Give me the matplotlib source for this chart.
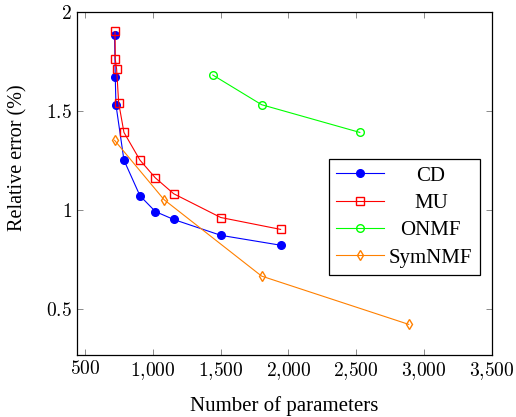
import numpy as np
import matplotlib
matplotlib.use("Agg")
import matplotlib.pyplot as plt
from matplotlib.ticker import FuncFormatter, FixedLocator

plt.rcParams['font.family'] = 'Liberation Serif'
plt.rcParams['mathtext.fontset'] = 'cm'

# values
cd_x = [719, 724, 729, 788, 906, 1020, 1155, 1502, 1943]
cd_y = [1.88, 1.67, 1.53, 1.25, 1.07, 0.99, 0.95, 0.87, 0.82]

mu_x = [722, 724, 734, 749, 788, 906, 1020, 1155, 1502, 1943]
mu_y = [1.90, 1.76, 1.71, 1.54, 1.39, 1.25, 1.16, 1.08, 0.96, 0.90]

onmf_x = [1443, 1803, 2527]
onmf_y = [1.68, 1.53, 1.39]

sym_x = [719, 1084, 1803, 2888]
sym_y = [1.35, 1.05, 0.664, 0.42]

x_ticks = [500, 1000, 1500, 2000, 2500, 3000, 3500]
y_ticks = [0.5, 1, 1.5, 2]

fig = plt.figure(figsize=(5.16, 4.17), dpi=100)
ax = fig.add_axes([0.149, 0.149, 0.804, 0.823])

ax.plot(cd_x, cd_y, color='blue', lw=0.8, marker='o', ms=5.5, mfc='blue', mec='blue', label='CD')
ax.plot(mu_x, mu_y, color='red', lw=0.8, marker='s', ms=5.5, mfc='none', mec='red', label='MU')
ax.plot(onmf_x, onmf_y, color='#00ff00', lw=0.8, marker='o', ms=5.5, mfc='none', mec='#00ff00', label='ONMF')
ax.plot(sym_x, sym_y, color='#ff8000', lw=0.8, marker='d', ms=5, mfc='none', mec='#ff8000', label='SymNMF')

ax.set_xlim(441, 3500)
ax.set_ylim(0.266, 2)
ax.xaxis.set_major_locator(FixedLocator(x_ticks))
ax.yaxis.set_major_locator(FixedLocator(y_ticks))
ax.xaxis.set_major_formatter(FuncFormatter(lambda v, p: '$' + f'{int(v):,}'.replace(',', '{,}') + '$'))
ax.yaxis.set_major_formatter(FuncFormatter(lambda v, p: f'${v:g}$'))
ax.tick_params(direction='in', top=True, right=True, length=4, width=0.6, labelsize=14, color='#777777')
for s in ax.spines.values():
    s.set_linewidth(0.9)

ax.set_xlabel('Number of parameters', fontsize=15, labelpad=10.5)
ax.set_ylabel('Relative error (%)', fontsize=14.5)
ax.yaxis.set_label_coords(-0.118, 0.575)

leg = ax.legend(loc='upper left', bbox_to_anchor=(0.607, 0.571), borderaxespad=0,
                fontsize=15, fancybox=False, edgecolor='black', framealpha=1,
                handlelength=2.3, handletextpad=0.25, labelspacing=0.37,
                borderpad=0.35)
leg.get_frame().set_linewidth(0.9)

# centre legend entries like pgfplots does
fig.canvas.draw()
texts = leg.get_texts()
widths = [t.get_window_extent().width for t in texts]
w_max = max(widths)
for t, w in zip(texts, widths):
    t.set_position(((w_max - w) / 2, 0))

fig.savefig('out.png', dpi=100)
